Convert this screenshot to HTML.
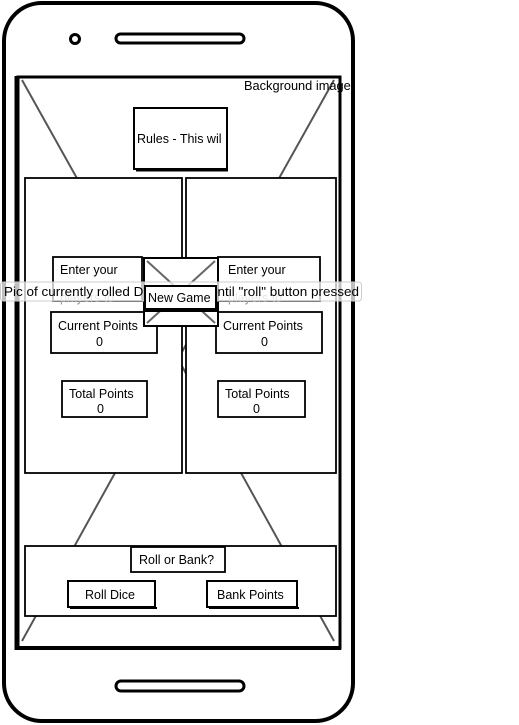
<!DOCTYPE html>
<html><head><meta charset="utf-8"><style>
html,body{margin:0;padding:0;background:#fff;}
svg{display:block;}
text{font-family:"Liberation Sans",sans-serif;font-size:12.5px;fill:#000;}
</style></head><body>
<svg width="519" height="725" viewBox="0 0 519 725" xmlns="http://www.w3.org/2000/svg">
<rect x="4" y="3" width="349" height="718" rx="38" fill="#fff" stroke="#000" stroke-width="4"/>
<circle cx="75" cy="39" r="4.5" fill="none" stroke="#000" stroke-width="3"/>
<rect x="116" y="34" width="128" height="9" rx="4.5" fill="none" stroke="#000" stroke-width="3"/>
<rect x="116" y="681" width="128" height="10" rx="5" fill="none" stroke="#000" stroke-width="3"/>
<!-- screen -->
<rect x="18" y="77" width="322" height="571" fill="#fff" stroke="#000" stroke-width="3"/>
<line x1="16" y1="76" x2="16" y2="650" stroke="#000" stroke-width="3"/>
<line x1="16" y1="648" x2="341" y2="648" stroke="#000" stroke-width="4"/>
<g stroke="#555" stroke-width="2">
<line x1="22" y1="80" x2="178" y2="359"/>
<line x1="334" y1="80" x2="178" y2="359"/>
<line x1="22" y1="641" x2="178" y2="359"/>
<line x1="334" y1="641" x2="178" y2="359"/>
</g>
<text x="244" y="90" style="font-size:12.8px">Background image</text>
<!-- rules -->
<rect x="134" y="108" width="93" height="61" fill="#fff" stroke="#000" stroke-width="2"/>
<line x1="136" y1="170.5" x2="228" y2="170.5" stroke="#000" stroke-width="2"/>
<text x="137" y="143">Rules - This wil</text>
<!-- panels -->
<rect x="25" y="178" width="157" height="295" fill="#fff" stroke="#000" stroke-width="1.8"/>
<rect x="186" y="178" width="150" height="295" fill="#fff" stroke="#000" stroke-width="1.8"/>
<!-- left -->
<rect x="53" y="257" width="89" height="44" fill="#fff" stroke="#000" stroke-width="1.8"/>
<text x="60" y="274">Enter your</text>
<text x="60" y="302" style="fill:#999">players to</text>
<rect x="51" y="312" width="106" height="41" fill="#fff" stroke="#000" stroke-width="1.8"/>
<text x="58" y="330">Current Points</text><text x="96" y="346">0</text>
<rect x="62" y="381" width="85" height="36" fill="#fff" stroke="#000" stroke-width="1.8"/>
<text x="69" y="398">Total Points</text><text x="97" y="413">0</text>
<!-- right -->
<rect x="218" y="257" width="102" height="44" fill="#fff" stroke="#000" stroke-width="1.8"/>
<text x="228" y="274">Enter your</text>
<text x="228" y="302" style="fill:#999">players to</text>
<rect x="216" y="312" width="106" height="41" fill="#fff" stroke="#000" stroke-width="1.8"/>
<text x="223" y="330">Current Points</text><text x="261" y="346">0</text>
<rect x="218" y="381" width="87" height="36" fill="#fff" stroke="#000" stroke-width="1.8"/>
<text x="225" y="398">Total Points</text><text x="253" y="413">0</text>
<!-- dice image -->
<rect x="144" y="258" width="74" height="68" fill="#fff" stroke="#000" stroke-width="2"/>
<g stroke="#666" stroke-width="2"><line x1="147" y1="261" x2="215" y2="323"/><line x1="215" y1="261" x2="147" y2="323"/></g>
<!-- tooltip -->
<rect x="0.5" y="282" width="361" height="19" rx="3" fill="rgba(255,255,255,0.75)" stroke="#ccc"/>
<text x="4" y="296" textLength="355" lengthAdjust="spacingAndGlyphs">Pic of currently rolled Dice - Blank until "roll" button pressed</text>
<rect x="145" y="286" width="71" height="25" fill="#fff" stroke="#000" stroke-width="2"/>
<line x1="145" y1="310" x2="216" y2="310" stroke="#000" stroke-width="4"/>
<text x="148" y="302">New Game</text>
<!-- bottom -->
<rect x="25" y="546" width="311" height="70" fill="#fff" stroke="#000" stroke-width="1.8"/>
<rect x="131" y="547" width="94" height="25" fill="#fff" stroke="#000" stroke-width="1.8"/>
<text x="139" y="564">Roll or Bank?</text>
<rect x="68" y="581" width="87" height="26" fill="#fff" stroke="#000" stroke-width="2"/>
<line x1="70" y1="608" x2="157" y2="608" stroke="#000" stroke-width="2"/>
<text x="85" y="599">Roll Dice</text>
<rect x="207" y="581" width="90" height="26" fill="#fff" stroke="#000" stroke-width="2"/>
<line x1="209" y1="608" x2="299" y2="608" stroke="#000" stroke-width="2"/>
<text x="217" y="599">Bank Points</text>
</svg>
</body></html>
